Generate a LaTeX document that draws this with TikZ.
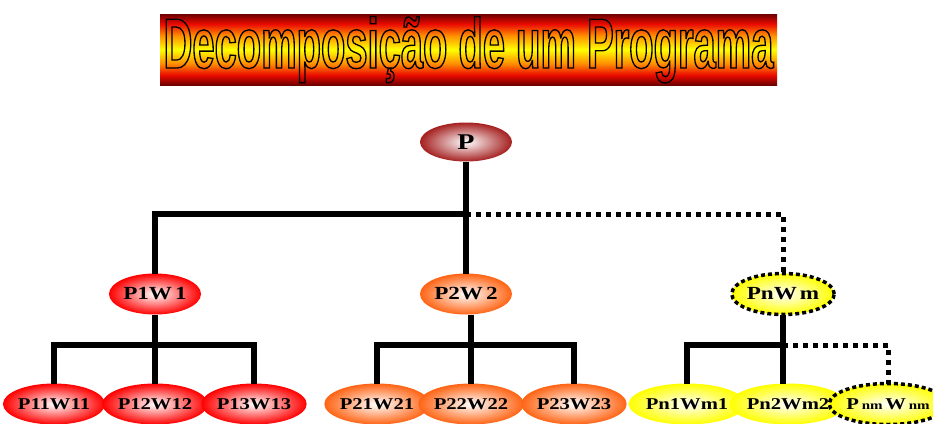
\documentclass[tikz,border=0pt]{standalone}
\usepackage{fontspec}
\usetikzlibrary{shapes.geometric}

\newfontfamily\titlefont{Liberation Sans}[FakeStretch=0.562]
\newfontfamily\labelfont{Liberation Serif}[FakeStretch=1.25]

\definecolor{pdark}{RGB}{165,32,32}
\definecolor{pred}{RGB}{255,0,0}
\definecolor{porange}{RGB}{255,100,20}
\definecolor{pyellow}{RGB}{255,255,0}
\definecolor{bardark}{RGB}{110,0,0}
\definecolor{barred}{RGB}{235,10,0}
\definecolor{barorange}{RGB}{255,140,0}

\pgfdeclareverticalshading{titlebar}{100bp}{color(0bp)=(bardark); color(25bp)=(bardark);
  color(32bp)=(barred); color(40bp)=(barorange); color(50bp)=(pyellow);
  color(60bp)=(barorange); color(68bp)=(barred); color(75bp)=(bardark); color(100bp)=(bardark)}

\begin{document}
\begin{tikzpicture}[x=1pt, y=1pt, yscale=-1, inner sep=0pt, outer sep=0pt,
  boxnode/.style={ellipse, minimum width=92pt, minimum height=41pt,
    font=\labelfont\bfseries\fontsize{18.5}{18.5}\selectfont},
  leafnode/.style={boxnode, font=\labelfont\bfseries\fontsize{16.5}{16.5}\selectfont},
  rootball/.style={inner color=white, outer color=pdark},
  redball/.style={inner color=white, outer color=pred},
  orangeball/.style={inner color=white, outer color=porange},
  yellowball/.style={inner color=white, outer color=pyellow},
  dotrim/.style={draw=black, line width=3.5pt, dash pattern=on 4pt off 3pt},
  tree/.style={line width=5.5pt},
  treedots/.style={line width=5pt, dash pattern=on 5pt off 5pt}]
\useasboundingbox (0,0) rectangle (933,423);

% title banner
\node[shading=titlebar, minimum width=617pt, minimum height=71pt] (banner) at (468.5,49.5) {};
\node[anchor=base, font=\titlefont\bfseries\fontsize{71}{71}\selectfont] (title) at (468.5,68)
  {\special{pdf:literal direct 1 Tr 1.3 w}Decomposição de um Programa\special{pdf:literal direct 0 Tr}};

% program and first level
\node[boxnode, rootball, minimum height=39pt, font=\labelfont\bfseries\fontsize{22.5}{22.5}\selectfont] (P) at (466,142) {P};
\node[boxnode, redball] (P1W1) at (155,294) {P1W\,1};
\node[boxnode, orangeball] (P2W2) at (466,294) {P2W\,2};
\node[boxnode, yellowball, dotrim] (PnWm) at (783,294) {PnW\,m};

% second level
\node[leafnode, redball] (P11W11) at (54,404) {P11W11};
\node[leafnode, redball] (P12W12) at (155,404) {P12W12};
\node[leafnode, redball] (P13W13) at (254,404) {P13W13};
\node[leafnode, orangeball] (P21W21) at (377,404) {P21W21};
\node[leafnode, orangeball] (P22W22) at (471,404) {P22W22};
\node[leafnode, orangeball] (P23W23) at (574,404) {P23W23};
\node[leafnode, yellowball] (Pn1Wm1) at (687,404) {Pn1Wm1};
\node[leafnode, yellowball] (Pn2Wm2) at (788,404) {Pn2Wm2};
\node[leafnode, yellowball, dotrim] (PnmWnm) at (888,404)
  {P\,{\fontsize{12}{12}\selectfont nm}\,W\,{\fontsize{12}{12}\selectfont nm}};

% connectors
\coordinate (j0) at (466,214);
\coordinate (j1) at (155,345);
\coordinate (j2) at (471,345);
\coordinate (j3) at (783,345);
\draw[tree] (P) -- (P2W2);
\draw[tree] (P1W1) |- (j0);
\draw[treedots] (j0) -| (PnWm);
\draw[tree] (P1W1) -- (P12W12);
\draw[tree] (P11W11) |- (j1) -| (P13W13);
\draw[tree] (P2W2.south -| j2) -- (P22W22);
\draw[tree] (P21W21) |- (j2) -| (P23W23);
\draw[tree] (PnWm) -- (PnWm |- Pn2Wm2.north);
\draw[tree] (Pn1Wm1) |- (j3);
\draw[treedots] (j3) -| (PnmWnm);
\end{tikzpicture}
\end{document}
